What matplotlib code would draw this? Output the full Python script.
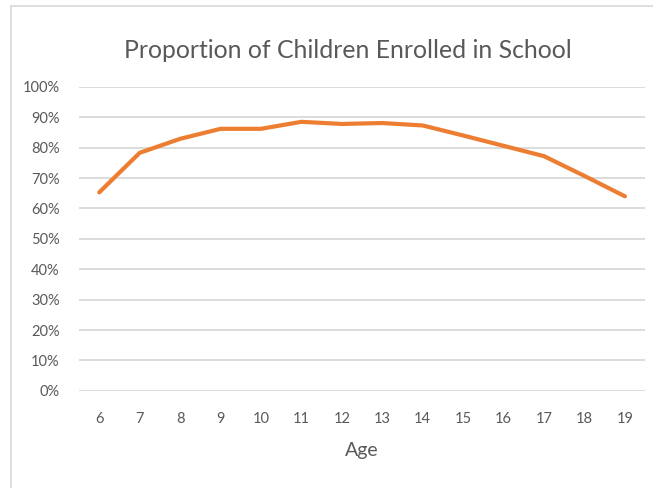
import matplotlib.pyplot as plt
from matplotlib.lines import Line2D
from matplotlib.ticker import PercentFormatter

# Enrolment share by age
ages = [6, 7, 8, 9, 10, 11, 12, 13, 14, 15, 16, 17, 18, 19]
enrolled = [0.653, 0.783, 0.829, 0.862, 0.862, 0.885, 0.878, 0.881, 0.873,
            0.840, 0.806, 0.772, 0.707, 0.640]

grey = '#595959'
plt.rcParams['font.family'] = ['Lato', 'DejaVu Sans']

fig = plt.figure(figsize=(6.53, 4.88), dpi=100)
ax = fig.add_axes([0.121, 0.199, 0.867, 0.623])

ax.plot(ages, enrolled, color='#ED7D31', linewidth=3, solid_capstyle='round')

ax.set_xlim(5.5, 19.5)
ax.set_ylim(0, 1)
ax.set_xticks(ages)
ax.set_yticks([i / 10 for i in range(11)])
ax.yaxis.set_major_formatter(PercentFormatter(1.0, decimals=0))
ax.grid(axis='y', color='#d9d9d9', linewidth=1.3)
ax.set_axisbelow(True)
for s in ax.spines.values():
    s.set_visible(False)
ax.tick_params(length=0, labelsize=10.5, colors=grey)
ax.tick_params(axis='x', pad=15)
ax.tick_params(axis='y', pad=14)

# title sits centred over the whole chart, a bit left of the plot centre
ax.set_title('Proportion of Children Enrolled in School', fontsize=17.8,
             color=grey, pad=21, x=0.475)
ax.set_xlabel('Age', fontsize=14, color=grey, labelpad=12)

# chart frame: top and left edges
fig.add_artist(Line2D([11 / 653, 1], [1 - 6 / 488, 1 - 6 / 488],
                      color='#d9d9d9', linewidth=1.2))
fig.add_artist(Line2D([11 / 653, 11 / 653], [0, 1 - 6 / 488],
                      color='#d9d9d9', linewidth=1.2))

fig.savefig('out.png', dpi=100)
